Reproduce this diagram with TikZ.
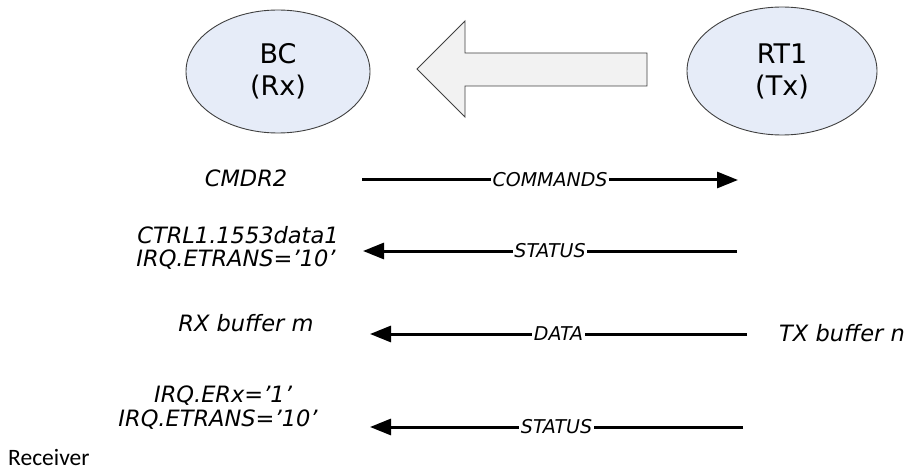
\documentclass[tikz,border=0pt]{standalone}
\usepackage{fontspec}
\newfontfamily\dvfont{DejaVu Sans}
\newfontfamily\cbfont{Carlito}
\usetikzlibrary{shapes.geometric,arrows.meta}
\definecolor{partyfill}{HTML}{E6ECF8}
\definecolor{bigarrowfill}{HTML}{F2F2F2}
\definecolor{outline}{HTML}{404040}
\begin{document}
\begin{tikzpicture}[x=1pt,y=-1pt,
  party/.style={ellipse, draw=outline, line width=0.9pt, fill=partyfill, inner sep=0pt,
    align=center, font=\dvfont\fontsize{27}{32}\selectfont},
  sidelabel/.style={anchor=base, inner sep=0pt, font=\dvfont\itshape\fontsize{22.5}{26}\selectfont},
  msg/.style={line width=3pt, -{Triangle[length=21pt,width=16pt]}},
  msglabel/.style={fill=white, inner sep=1.5pt, font=\dvfont\itshape\fontsize{19}{22}\selectfont},
]
\useasboundingbox (0,0) rectangle (904,473);

% parties
\node[party, minimum width=184pt, minimum height=123pt] (bc) at (278,71.5) {BC\\(Rx)};
\node[party, minimum width=190pt, minimum height=128pt] (rt) at (782,71) {RT1\\(Tx)};

% big direction arrow
\draw[draw=outline, line width=0.9pt, fill=bigarrowfill]
  (647,53) -- (465,53) -- (465,21) -- (417,69) -- (465,117) -- (465,86) -- (647,86) -- cycle;

% message end points
\coordinate (cmdA) at (362,180);  \coordinate (cmdB) at (738,180);
\coordinate (stA)  at (737,251);  \coordinate (stB)  at (363,251);
\coordinate (dtA)  at (747,334);  \coordinate (dtB)  at (370,334);
\coordinate (st2A) at (743,427);  \coordinate (st2B) at (370,427);

\draw[msg] (cmdA) -- node[msglabel] (lcmd) {COMMANDS} (cmdB);
\draw[msg] (stA)  -- node[msglabel] (lst)  {STATUS} (stB);
\draw[msg] (dtA)  -- node[msglabel] (ldt)  {DATA} (dtB);
\draw[msg] (st2A) -- node[msglabel] (lst2) {STATUS} (st2B);

% side labels
\node[sidelabel] (cmdr) at (246,186) {CMDR2};
\node[sidelabel] (ctrl) at (238,243) {CTRL1.1553data1};
\node[sidelabel] (irq1) at (236,266) {IRQ.ETRANS=’10’};
\node[sidelabel] (rxb)  at (246,331) {RX buffer m};
\node[sidelabel, anchor=base west] (txb) at (779,341) {TX buffer n};
\node[sidelabel] (erx)  at (223,402) {IRQ.ERx=’1’};
\node[sidelabel] (irq2) at (218,426) {IRQ.ETRANS=’10’};

\node[anchor=base west, inner sep=0pt, font=\cbfont\fontsize{23.5}{28}\selectfont] (recv) at (8,465) {Receiver};
\end{tikzpicture}
\end{document}
